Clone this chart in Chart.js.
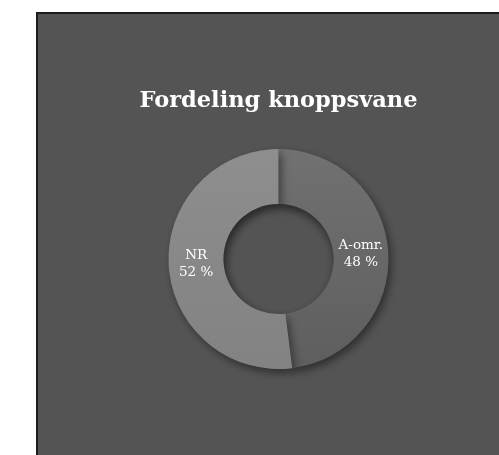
<!DOCTYPE html>
<html>
<head>
<meta charset="utf-8">
<script src="https://cdn.jsdelivr.net/npm/chart.js@4"></script>
<style>
html,body{margin:0;padding:0;background:#fff;}
#wrap{width:499px;height:455px;position:relative;}
</style>
</head>
<body>
<div id="wrap"><canvas id="c" width="499" height="455"></canvas></div>
<script>
const categories = ["A-omr.", "NR"];
const values = [48, 52];
const percentLabels = ["48 %", "52 %"];
const titleText = "Fordeling knoppsvane";

const panelPlugin = {
  id: 'panel',
  beforeDraw(chart) {
    const ctx = chart.ctx;
    ctx.save();
    ctx.fillStyle = '#ffffff';
    ctx.fillRect(0, 0, chart.width, chart.height);
    ctx.fillStyle = '#1c1c1c';
    ctx.fillRect(36, 12, chart.width - 36, chart.height - 12);
    ctx.fillStyle = '#545454';
    ctx.fillRect(38, 14, chart.width - 38, chart.height - 14);
    ctx.restore();
  }
};

const shadowPlugin = {
  id: 'shadow',
  beforeDatasetsDraw(chart) {
    const ctx = chart.ctx;
    ctx.save();
    ctx.shadowColor = 'rgba(0,0,0,0.45)';
    ctx.shadowBlur = 9;
    ctx.shadowOffsetX = 3;
    ctx.shadowOffsetY = 4;
  },
  afterDatasetsDraw(chart) {
    const ctx = chart.ctx;
    ctx.restore();
    const meta = chart.getDatasetMeta(0);
    const arc = meta.data[0];
    if (!arc) return;
    const cx = arc.x, cy = arc.y, r = arc.innerRadius;
    ctx.save();
    ctx.beginPath();
    ctx.arc(cx, cy, r, 0, Math.PI * 2);
    ctx.clip();
    ctx.shadowColor = 'rgba(0,0,0,0.6)';
    ctx.shadowBlur = 8;
    ctx.shadowOffsetX = 0;
    ctx.shadowOffsetY = 5;
    ctx.lineWidth = 10;
    ctx.strokeStyle = 'rgba(0,0,0,0.3)';
    ctx.beginPath();
    ctx.arc(cx, cy, r + 5, 0, Math.PI * 2);
    ctx.stroke();
    ctx.restore();
  }
};

const labelPlugin = {
  id: 'sliceLabels',
  afterDatasetsDraw(chart) {
    const ctx = chart.ctx;
    const meta = chart.getDatasetMeta(0);
    ctx.save();
    ctx.fillStyle = '#ffffff';
    ctx.font = '13.5px "DejaVu Serif", serif';
    ctx.textAlign = 'center';
    ctx.textBaseline = 'middle';
    meta.data.forEach((arc, i) => {
      const p = arc.tooltipPosition();
      ctx.fillText(categories[i], p.x, p.y - 8.5);
      ctx.fillText(percentLabels[i], p.x, p.y + 8.5);
    });
    ctx.restore();
  }
};

function sliceColor(ctx, top, bottom) {
  const chart = ctx.chart;
  const area = chart.chartArea;
  if (!area) return top;
  const g = chart.ctx.createLinearGradient(0, area.top, 0, area.bottom);
  g.addColorStop(0, top);
  g.addColorStop(1, bottom);
  return g;
}

new Chart(document.getElementById('c'), {
  type: 'doughnut',
  data: {
    labels: categories,
    datasets: [{
      data: values,
      backgroundColor: (ctx) => ctx.dataIndex === 0
        ? sliceColor(ctx, '#717171', '#5e5e5e')
        : sliceColor(ctx, '#8e8e8e', '#828282'),
      borderWidth: 0,
      hoverOffset: 0
    }]
  },
  options: {
    responsive: false,
    animation: false,
    cutout: '50%',
    layout: { padding: { left: 58, right: 0, top: 0, bottom: 86 } },
    plugins: {
      legend: { display: false },
      tooltip: { enabled: false },
      title: {
        display: true,
        text: titleText,
        color: '#ffffff',
        font: { family: '"DejaVu Serif", serif', size: 22.5, weight: 'bold' },
        padding: { top: 87.5, bottom: 34.5 }
      }
    }
  },
  plugins: [panelPlugin, shadowPlugin, labelPlugin]
});
</script>
</body>
</html>
